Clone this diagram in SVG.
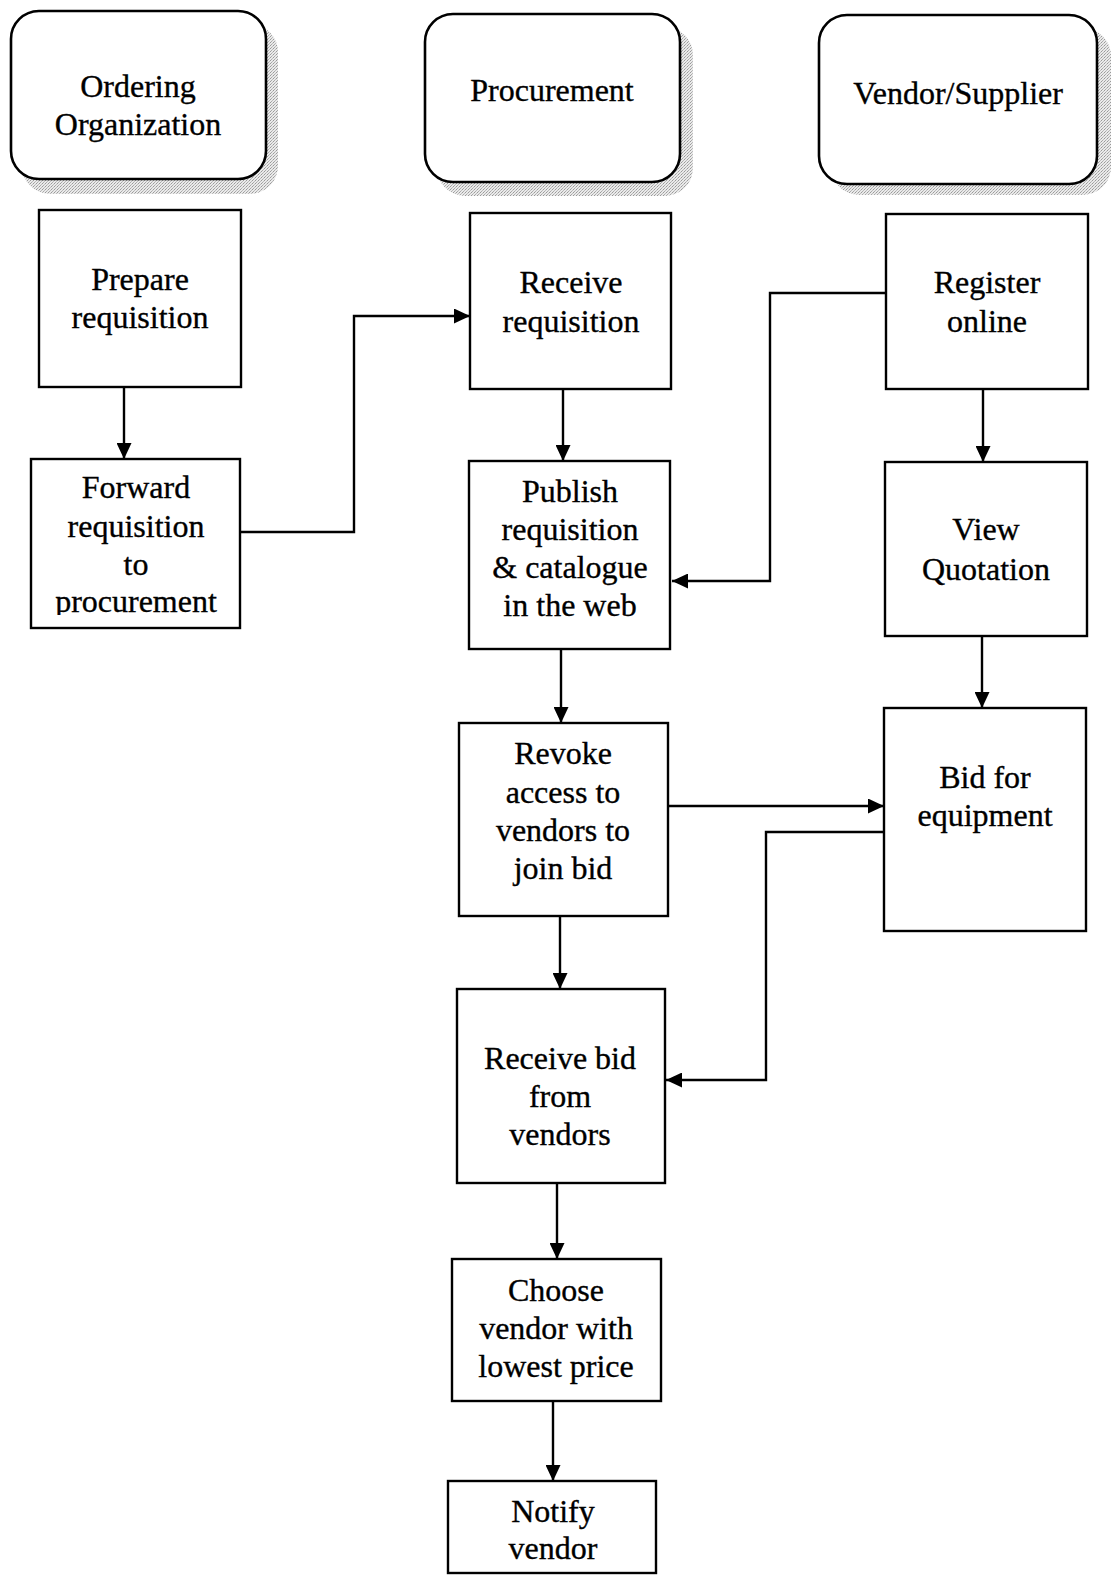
<svg xmlns="http://www.w3.org/2000/svg" width="1114" height="1575" viewBox="0 0 1114 1575">
<style>
.box{fill:#fff;stroke:#000;stroke-width:2.4}
.hdr{fill:#fff;stroke:#000;stroke-width:2.6}
.shd{fill:url(#dots);stroke:none}
.t{font-family:"Liberation Serif","Times New Roman",serif;font-size:32px;fill:#000;stroke:#000;stroke-width:0.35;text-anchor:middle}
.c{fill:none;stroke:#000;stroke-width:2.4}
</style>
<defs>
<pattern id="dots" width="3" height="3" patternUnits="userSpaceOnUse">
<rect width="3" height="3" fill="#eaeaea"/>
<rect x="0" y="0" width="1" height="1" fill="#999"/>
<rect x="2" y="1" width="1" height="1" fill="#bbb"/>
<rect x="1" y="2" width="1" height="1" fill="#aaa"/>
</pattern>
<marker id="ah" markerWidth="16" markerHeight="15" refX="16" refY="7.5" orient="auto" markerUnits="userSpaceOnUse">
<path d="M0,0 L16,7.5 L0,15 Z" fill="#000"/>
</marker>
<clipPath id="fwdclip"><rect x="31" y="459" width="210" height="156"/></clipPath>
</defs>

<g id="hdr-ordering">
<rect class="shd" x="22" y="24" width="256" height="170" rx="28"/>
<rect class="hdr" x="11" y="11" width="255" height="168" rx="28"/>
<text class="t" x="138" y="97">Ordering</text>
<text class="t" x="138" y="135">Organization</text>
</g>
<g id="hdr-procurement">
<rect class="shd" x="437" y="27" width="256" height="169" rx="28"/>
<rect class="hdr" x="425" y="14" width="255" height="168" rx="28"/>
<text class="t" x="552" y="101">Procurement</text>
</g>
<g id="hdr-vendor">
<rect class="shd" x="831" y="28" width="280" height="167" rx="28"/>
<rect class="hdr" x="819" y="15" width="278" height="169" rx="28"/>
<text class="t" x="958" y="104">Vendor/Supplier</text>
</g>

<g id="n-prepare">
<rect class="box" x="39" y="210" width="202" height="177"/>
<text class="t" x="140" y="290">Prepare</text>
<text class="t" x="140" y="328">requisition</text>
</g>
<g id="n-forward">
<rect class="box" x="31" y="459" width="209" height="169"/>
<g clip-path="url(#fwdclip)">
<text class="t" x="136" y="498">Forward</text>
<text class="t" x="136" y="537">requisition</text>
<text class="t" x="136" y="575">to</text>
<text class="t" x="136" y="612">procurement</text>
</g>
</g>
<g id="n-receive-req">
<rect class="box" x="470" y="213" width="201" height="176"/>
<text class="t" x="571" y="293">Receive</text>
<text class="t" x="571" y="332">requisition</text>
</g>
<g id="n-publish">
<rect class="box" x="469" y="461" width="201" height="188"/>
<text class="t" x="570" y="502">Publish</text>
<text class="t" x="570" y="540">requisition</text>
<text class="t" x="570" y="578">&amp; catalogue</text>
<text class="t" x="570" y="616">in the web</text>
</g>
<g id="n-register">
<rect class="box" x="886" y="214" width="202" height="175"/>
<text class="t" x="987" y="293">Register</text>
<text class="t" x="987" y="332">online</text>
</g>
<g id="n-view">
<rect class="box" x="885" y="462" width="202" height="174"/>
<text class="t" x="986" y="540">View</text>
<text class="t" x="986" y="580">Quotation</text>
</g>
<g id="n-revoke">
<rect class="box" x="459" y="723" width="209" height="193"/>
<text class="t" x="563" y="764">Revoke</text>
<text class="t" x="563" y="803">access to</text>
<text class="t" x="563" y="841">vendors to</text>
<text class="t" x="563" y="879">join bid</text>
</g>
<g id="n-bid">
<rect class="box" x="884" y="708" width="202" height="223"/>
<text class="t" x="985" y="788">Bid for</text>
<text class="t" x="985" y="826">equipment</text>
</g>
<g id="n-receive-bid">
<rect class="box" x="457" y="989" width="208" height="194"/>
<text class="t" x="560" y="1069">Receive bid</text>
<text class="t" x="560" y="1107">from</text>
<text class="t" x="560" y="1145">vendors</text>
</g>
<g id="n-choose">
<rect class="box" x="452" y="1259" width="209" height="142"/>
<text class="t" x="556" y="1301">Choose</text>
<text class="t" x="556" y="1339">vendor with</text>
<text class="t" x="556" y="1377">lowest price</text>
</g>
<g id="n-notify">
<rect class="box" x="448" y="1481" width="208" height="92"/>
<text class="t" x="553" y="1522">Notify</text>
<text class="t" x="553" y="1559">vendor</text>
</g>

<g id="connectors">
<path class="c" d="M124,387 V459" marker-end="url(#ah)"/>
<path class="c" d="M240,532 H354 V316 H470" marker-end="url(#ah)"/>
<path class="c" d="M563,389 V461" marker-end="url(#ah)"/>
<path class="c" d="M886,293 H770 V581 H672" marker-end="url(#ah)"/>
<path class="c" d="M983,389 V462" marker-end="url(#ah)"/>
<path class="c" d="M561,649 V723" marker-end="url(#ah)"/>
<path class="c" d="M982,636 V708" marker-end="url(#ah)"/>
<path class="c" d="M668,806 H884" marker-end="url(#ah)"/>
<path class="c" d="M884,832 H766 V1080 H666" marker-end="url(#ah)"/>
<path class="c" d="M560,916 V989" marker-end="url(#ah)"/>
<path class="c" d="M557,1183 V1259" marker-end="url(#ah)"/>
<path class="c" d="M553,1402 V1481" marker-end="url(#ah)"/>
</g>
</svg>
